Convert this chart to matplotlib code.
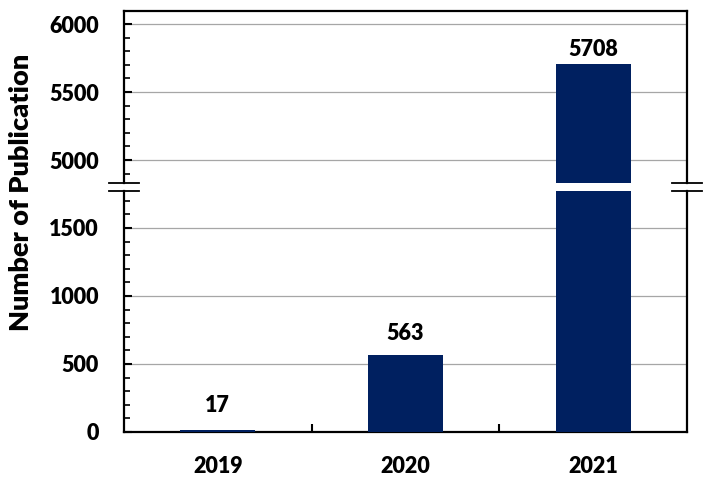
import numpy as np
import matplotlib
matplotlib.use('Agg')
import matplotlib.pyplot as plt
from matplotlib.lines import Line2D
from matplotlib.ticker import MultipleLocator

plt.rcParams['font.family'] = ['Lato', 'DejaVu Sans']
plt.rcParams['font.weight'] = 'heavy'

# ----------------------------- 数据 -----------------------------
years = ['2019', '2020', '2021']
counts = [17, 563, 5708]
low_lim = (0, 1772)
high_lim = (4831, 6096)
label_gap = [10, 8, 3]   # 标注与柱顶的距离 (pt)

bar_color = '#002060'
grid_color = '#a6a6a6'

fig = plt.figure(figsize=(7.09, 4.82), dpi=100)
W, H = 709, 482
left, right = 124 / W, 687 / W
ax_hi = fig.add_axes([left, 1 - 183 / H, right - left, (183 - 11) / H])
ax_lo = fig.add_axes([left, 1 - 432 / H, right - left, (432 - 191) / H])

x = np.arange(len(years))
for ax, lim in [(ax_hi, high_lim), (ax_lo, low_lim)]:
    ax.bar(x, counts, width=0.4, color=bar_color, zorder=3)
    ax.set_ylim(*lim)
    ax.set_xlim(-0.5, 2.5)
    ax.yaxis.set_major_locator(MultipleLocator(500))
    ax.yaxis.set_minor_locator(MultipleLocator(100))
    ax.grid(axis='y', which='major', color=grid_color, linewidth=0.9, zorder=0)
    ax.tick_params(axis='y', which='major', direction='in', length=6, width=1.5,
                   labelsize=15.5, pad=18)
    ax.tick_params(axis='y', which='minor', direction='in', length=4, width=1.2)
    for s in ax.spines.values():
        s.set_linewidth(1.6)
        s.set_color('black')
    for lbl in ax.get_yticklabels():
        lbl.set_fontweight('heavy')
    # 数值标注
    for xi, c, g in zip(x, counts, label_gap):
        if lim[0] <= c <= lim[1]:
            ax.annotate(str(c), (xi, c), xytext=(0, g), textcoords='offset points',
                        ha='center', va='bottom', fontsize=15.5, fontweight='heavy')

# 上半部分
ax_hi.spines['bottom'].set_visible(False)
ax_hi.set_xticks([])
# 下半部分
ax_lo.spines['top'].set_visible(False)
ax_lo.set_xticks([0.5, 1.5])
ax_lo.set_xticklabels([])
ax_lo.tick_params(axis='x', which='major', direction='in', length=6, width=1.5)
ax_lo.set_xticks(x, minor=True)
ax_lo.set_xticklabels(years, minor=True, fontsize=15.5, fontweight='heavy')
ax_lo.tick_params(axis='x', which='minor', length=0, pad=17)

# 断轴标记
for xs in (left, right):
    for yp in (183, 191):
        fig.add_artist(Line2D([xs - 15 / W, xs + 15 / W], [1 - yp / H, 1 - yp / H],
                              transform=fig.transFigure, color='black', linewidth=1.3))

fig.text(21 / W, 1 - 192 / H, 'Number of Publication', rotation=90, ha='center',
         va='center', fontsize=19.5, fontweight='heavy')

fig.savefig('out.png', dpi=100)
